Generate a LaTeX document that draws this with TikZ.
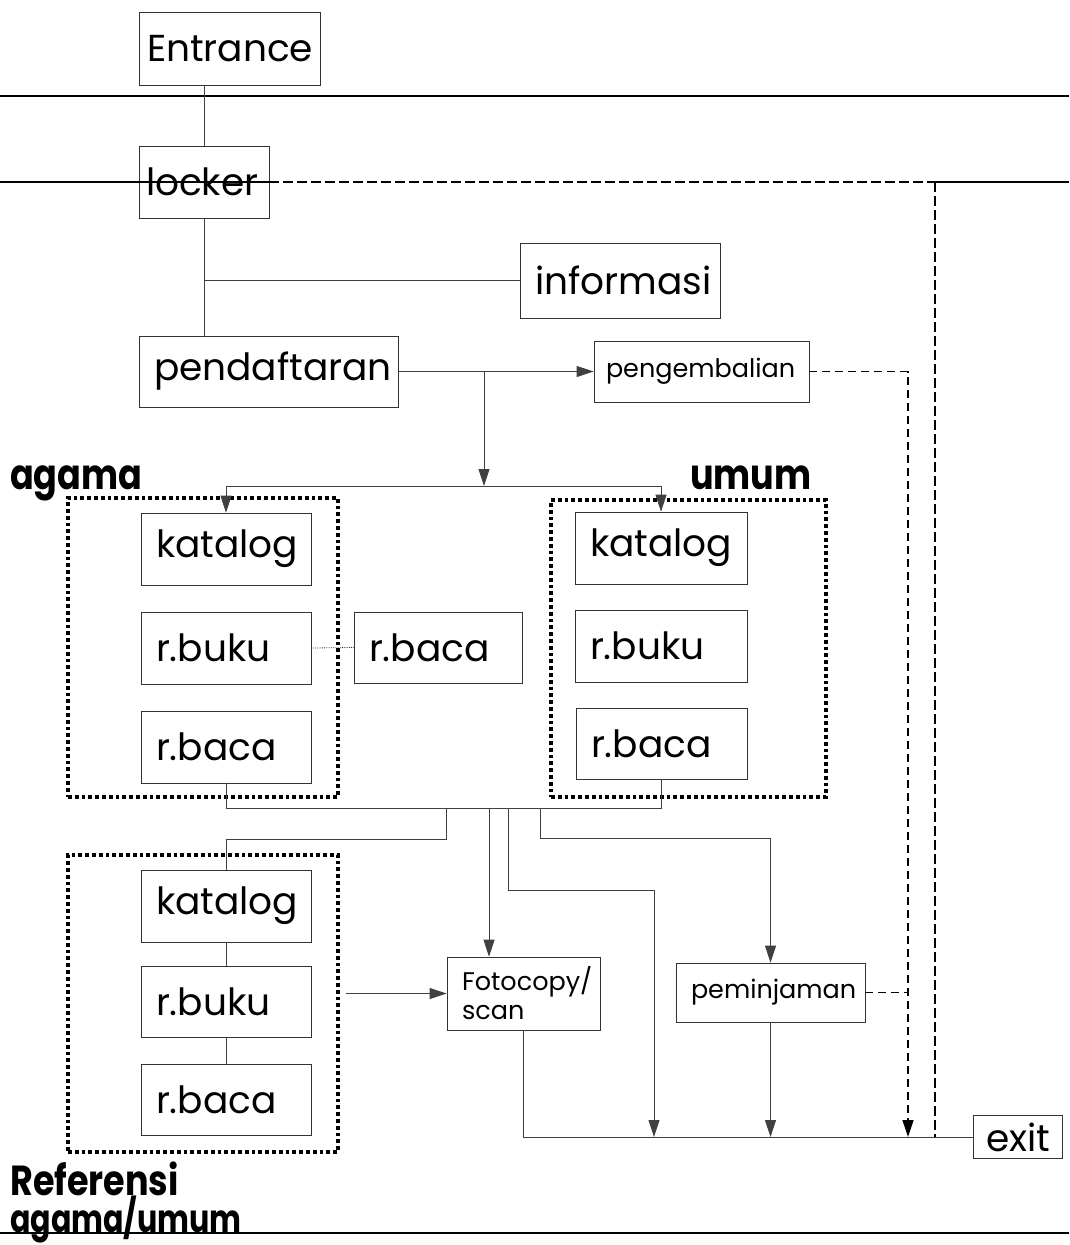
\documentclass[tikz,border=0pt]{standalone}
\usepackage{fontspec}
\setmainfont{Poppins}
\usetikzlibrary{arrows.meta}

\tikzset{
  box/.style={draw=black!80, line width=0.8pt, rectangle, inner xsep=15pt, inner ysep=0pt,
              align=left, font=\fontsize{37.5}{42}\selectfont},
  smallbox/.style={box, font=\fontsize{25.5}{29}\selectfont},
  group/.style={draw, line width=3.8pt, dash pattern=on 3.8pt off 3pt, rectangle,
                inner sep=0pt},
  heading/.style={inner sep=0pt, anchor=base west, font=\fontsize{35}{40}\selectfont\bfseries},
  link/.style={draw=black!75, line width=0.9pt},
  arr/.style={link, -{Triangle[length=17pt,width=11pt]}},
  dashlink/.style={draw=black, line width=1.3pt, dash pattern=on 8pt off 5pt},
  dasharr/.style={dashlink, -{Triangle[length=17pt,width=11pt]}},
  rule/.style={draw=black, line width=1.5pt},
  dashrule/.style={draw=black, line width=1.5pt, dash pattern=on 10pt off 4pt},
}

\begin{document}
\begin{tikzpicture}[x=1pt,y=-1pt]
\useasboundingbox (0,0) rectangle (1069,1245);

% entrance and floor rules
\draw[rule] (0,96) -- (1069,96);
\node[box, inner xsep=8pt, text width=165pt, minimum height=73pt] (entrance) at (229.5,48.5) {Entrance};
\node[box, inner xsep=7pt, text width=116pt, minimum height=72pt] (locker) at (204,182) {locker};

\coordinate (exitcol) at (935,182);
\draw[rule] (0,182) -- (locker.east);
\draw[dashrule] (locker.east) -- (exitcol);
\draw[rule] (exitcol) -- (1069,182);

% front desk
\node[box, text width=170pt, minimum height=75pt] (informasi) at (620,280.5) {informasi};
\node[box, text width=229pt, minimum height=71pt] (pendaftaran) at (268.5,371.5) {pendaftaran};
\node[smallbox, inner xsep=12pt, text width=191pt, minimum height=61pt] (pengembalian) at (701.5,371.5) {pengembalian};

% agama section
\node[group, minimum width=270pt, minimum height=299pt] (agamagrp) at (203,647.5) {};
\node[heading] (agamalbl) at (10,489) {\scalebox{1}[1.2]{agama}};
\node[box, text width=140pt, minimum height=72pt] (akatalog) at (226,549) {katalog};
\node[box, text width=140pt, minimum height=72pt] (arbuku) at (226,648) {r.buku};
\node[box, text width=140pt, minimum height=72pt] (arbaca) at (226,747) {r.baca};

% shared reading room
\node[box, text width=138pt, minimum height=71pt] (mrbaca) at (438,647.5) {r.baca};

% umum section
\node[group, minimum width=275pt, minimum height=297pt] (umumgrp) at (688.5,648.5) {};
\node[heading] (umumlbl) at (690,489) {\scalebox{1}[1.2]{umum}};
\node[box, text width=142pt, minimum height=72pt] (ukatalog) at (661,548) {katalog};
\node[box, text width=142pt, minimum height=72pt] (urbuku) at (661,646) {r.buku};
\node[box, text width=141pt, minimum height=71pt] (urbaca) at (661.5,743.5) {r.baca};

% referensi section
\node[group, minimum width=270pt, minimum height=297pt] (refgrp) at (203,1003.5) {};
\node[box, text width=140pt, minimum height=72pt] (rkatalog) at (226,906) {katalog};
\node[box, text width=140pt, minimum height=71pt] (rrbuku) at (226,1001.5) {r.buku};
\node[box, text width=140pt, minimum height=71pt] (rrbaca) at (226,1099.5) {r.baca};
\node[heading] (reflbl) at (10,1195) {\scalebox{1}[1.2]{Referensi}};
\draw[draw=black, line width=2pt] (0,1233) -- (1069,1233);
\node[heading] (refsub) at (10,1232) {\scalebox{0.86}[1.1]{agama/umum}};

% services and exit
\node[smallbox, text width=123pt, minimum height=73pt] (fotocopy) at (523.5,993.5) {Fotocopy/\\scan};
\node[smallbox, text width=159pt, minimum height=59pt] (peminjaman) at (770.5,992.5) {peminjaman};
\node[box, inner xsep=13pt, text width=63pt, minimum height=43pt] (exit) at (1017.5,1137) {exit};

% entrance path
\draw[link] (entrance.south -| locker.north) -- (locker.north);
\draw[link] (locker.south) -- (locker.south |- pendaftaran.north);
\draw[link] (locker.south |- informasi.west) -- (informasi.west);
\draw[arr] (pendaftaran.east) -- (pendaftaran.east -| pengembalian.west);

% split towards the two collections
\coordinate (split) at (484,371.5);
\coordinate (fork) at (484,486);
\draw[arr] (split) -- (fork);
\draw[arr] (fork) -| (akatalog.north);
\draw[arr] (fork) -| (ukatalog.north);
\draw[draw=black!80, line width=0.8pt, densely dotted] (arbuku.east) -- (mrbaca.west);

% merge below the collections
\draw[link] (arbaca.south) -- ++(0,25) -| (urbaca.south);
\coordinate (m1) at (446,808);
\coordinate (m2) at (489,808);
\coordinate (m3) at (508,808);
\coordinate (m4) at (540,808);
\coordinate (direct) at (654,1137);
\draw[link] (m1) -- (446,839) -| (rkatalog.north);
\draw[arr] (m2) -- (m2 |- fotocopy.north);
\draw[arr] (m3) -- (508,890) -| (direct);
\draw[arr] (m4) -- (540,838) -| (peminjaman.north);

% referensi chain
\draw[link] (rkatalog.south) -- (rrbuku.north);
\draw[link] (rrbuku.south) -- (rrbaca.north);
\draw[arr] ([xshift=6pt]refgrp.east |- fotocopy.west) -- (fotocopy.west);

% to the exit
\draw[link] (fotocopy.south) |- (exit.west);
\draw[arr] (peminjaman.south) -- (peminjaman.south |- exit.west);

% return paths
\coordinate (retend) at (908,1137);
\draw[dasharr] (pengembalian.east) -| (retend);
\draw[dashlink] (peminjaman.east) -- (peminjaman.east -| retend);
\draw[dashrule] (exitcol) -- (exitcol |- exit.west);
\end{tikzpicture}
\end{document}
